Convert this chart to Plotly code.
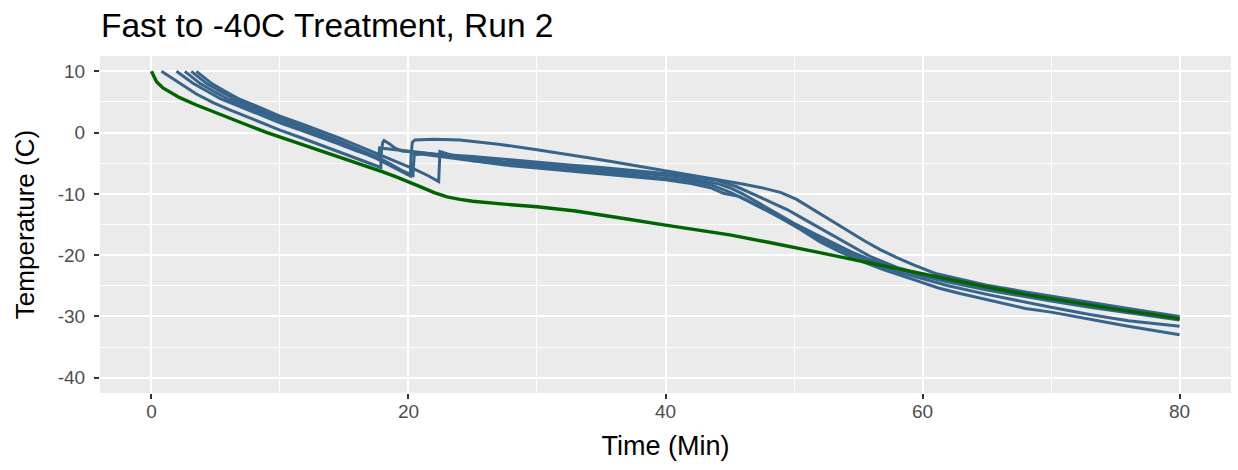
import plotly.graph_objects as go

# ---------------- data ----------------
green_time = [0, 0.2, 0.4, 0.9, 1.5, 2.2, 3.5, 4.8, 6.1, 7.5, 9, 10, 11, 12.5, 14, 15, 16, 17, 18, 19, 20,
              21, 22, 23, 24, 25, 27, 30, 33, 35, 37, 40, 43, 45, 48, 50, 52, 55, 58, 60, 62, 65, 68, 70,
              73, 75, 78, 80]
green_temp = [10.0, 9.1, 8.3, 7.3, 6.5, 5.7, 4.5, 3.4, 2.4, 1.2, 0.0, -0.7, -1.4, -2.5, -3.6, -4.3, -5.0,
              -5.7, -6.4, -7.2, -8.0, -8.9, -9.8, -10.5, -10.9, -11.2, -11.6, -12.1, -12.8, -13.5, -14.1,
              -15.1, -16.0, -16.7, -17.9, -18.8, -19.6, -20.9, -22.2, -23.1, -24.0, -25.2, -26.4, -27.1,
              -28.1, -28.8, -29.7, -30.4]

blue_a_time = [0.78, 1.5, 2.2, 3.5, 4.8, 6.1, 8, 10, 11.6, 13, 14.5, 16, 17, 17.85, 17.9, 18.0, 18.1, 18.5,
               19.0, 19.5, 20.5, 22, 23, 25, 27.5, 30, 32.5, 35, 37.5, 40, 42, 44, 45, 46, 47, 48, 49, 50,
               51.5, 53, 54.5, 56, 58, 60, 62, 65, 68, 70, 73, 76, 80]
blue_a_temp = [10.0, 9.0, 8.0, 6.3, 4.9, 3.7, 2.1, 0.4, -0.8, -1.9, -3.1, -4.2, -5.0, -5.7, -3.0, -1.6, -1.3,
               -1.8, -2.6, -3.0, -3.2, -3.5, -3.8, -4.2, -4.8, -5.2, -5.6, -6.0, -6.5, -7.0, -7.5, -8.3,
               -9.0, -10.0, -11.2, -12.4, -13.6, -14.8, -16.4, -18.0, -19.5, -20.8, -22.2, -23.4, -24.4,
               -25.7, -26.8, -27.5, -28.5, -29.4, -30.6]

blue_b_time = [1.95, 2.5, 3.2, 4.2, 5.4, 6.6, 8, 10, 11.6, 13, 14.5, 16, 17, 17.7, 17.75, 18.2, 19, 20, 21,
               22, 25, 27.5, 30, 32.5, 35, 37.5, 40, 42, 44, 45.5, 47, 48.3, 49.5, 50.5, 52, 54, 56, 58, 60,
               62, 65, 68, 70, 73, 76, 80]
blue_b_temp = [10.0, 9.1, 8.1, 6.9, 5.5, 4.5, 3.3, 1.6, 0.4, -0.6, -1.8, -3.0, -3.7, -4.1, -2.5, -2.6, -2.8,
               -3.0, -3.2, -3.5, -3.9, -4.4, -4.9, -5.3, -5.7, -6.2, -6.6, -7.1, -7.8, -8.8, -10.2, -11.5,
               -12.6, -13.8, -15.6, -18.0, -20.3, -22.0, -23.2, -24.1, -25.3, -26.4, -27.0, -28.1, -29.1,
               -30.3]

blue_c_time = [2.6, 3.1, 3.8, 4.8, 6.0, 7.2, 8.6, 10, 11.6, 13, 14.5, 16, 17.5, 18.5, 19.4, 20.15, 20.2,
               20.3, 20.5, 22, 24, 25, 27, 30, 32, 34, 36, 38, 40, 42, 44.6, 46, 47.7, 49, 50.2, 51.5, 53,
               54.1, 55.5, 56.7, 58, 59.3, 61, 63, 65, 68, 70, 73, 76, 80]
blue_c_temp = [10.0, 9.1, 8.0, 6.8, 5.4, 4.4, 3.2, 2.0, 0.7, -0.4, -1.6, -2.9, -4.2, -5.3, -6.3, -7.1, -4.0,
               -1.6, -1.2, -1.1, -1.2, -1.4, -1.9, -2.8, -3.4, -4.1, -4.8, -5.5, -6.2, -7.0, -7.9, -8.4,
               -9.1, -9.8, -10.9, -12.6, -14.6, -15.9, -17.7, -19.1, -20.4, -21.6, -23.0, -24.0, -24.9,
               -26.0, -26.7, -27.7, -28.7, -30.0]

blue_d_time = [3.1, 3.6, 4.3, 5.3, 6.5, 7.7, 9, 10, 11.6, 13, 14.5, 16, 17.5, 18.5, 19.5, 20.35, 20.45, 21,
               22, 23, 25, 27.5, 30, 32.5, 35, 37.5, 40, 42, 43.5, 45, 46.5, 48, 49.5, 51, 52.5, 54, 56, 58,
               60, 62, 65, 68, 70, 73, 76, 80]
blue_d_temp = [10.0, 9.1, 8.0, 6.8, 5.4, 4.4, 3.2, 2.4, 1.1, 0.0, -1.3, -2.6, -3.9, -5.0, -6.2, -7.0, -3.6,
               -3.5, -3.8, -4.1, -4.6, -5.1, -5.6, -6.0, -6.4, -6.9, -7.4, -7.9, -8.5, -9.7, -11.2, -12.9,
               -14.5, -16.2, -17.9, -19.4, -21.2, -22.7, -23.9, -25.0, -26.4, -27.7, -28.5, -29.7, -30.7,
               -31.6]

blue_e_time = [3.5, 4.0, 4.7, 5.7, 6.9, 8.1, 9.4, 10, 11.6, 13, 14.5, 16, 17.5, 19, 20.5, 21.5, 22.35,
               22.45, 23, 24, 25, 27.5, 30, 32.5, 35, 37.5, 40, 42, 43.5, 44.5, 45.7, 47, 48.3, 49.5, 50.5,
               52, 53.5, 55, 57, 59.3, 61.3, 63, 65, 68, 70, 73, 76, 80]
blue_e_temp = [10.0, 9.1, 8.0, 6.8, 5.4, 4.4, 3.2, 2.7, 1.5, 0.4, -0.8, -2.1, -3.4, -4.7, -6.0, -7.0, -8.0,
               -3.1, -3.5, -4.1, -4.6, -5.3, -5.8, -6.3, -6.7, -7.2, -7.7, -8.3, -9.0, -9.9, -10.4, -11.8,
               -13.1, -14.6, -15.8, -17.8, -19.4, -20.8, -22.4, -24.0, -25.4, -26.3, -27.3, -28.7, -29.3,
               -30.5, -31.6, -33.0]

x_ticks = [0, 20, 40, 60, 80]
y_ticks = [-40, -30, -20, -10, 0, 10]

title_text = "Fast to -40C Treatment, Run 2"
x_title = "Time (Min)"
y_title = "Temperature (C)"

BLUE = "#36648B"
GREEN = "#006400"
FONT = "Liberation Sans, Arial, sans-serif"

fig = go.Figure()
blue_series = [(blue_a_time, blue_a_temp), (blue_b_time, blue_b_temp), (blue_c_time, blue_c_temp),
               (blue_d_time, blue_d_temp), (blue_e_time, blue_e_temp)]
for bt, bv in blue_series:
    fig.add_trace(go.Scatter(x=bt, y=bv, mode="lines", line=dict(color=BLUE, width=3),
                             showlegend=False, hoverinfo="skip"))
fig.add_trace(go.Scatter(x=green_time, y=green_temp, mode="lines",
                         line=dict(color=GREEN, width=3.4), showlegend=False, hoverinfo="skip"))

axis_common = dict(
    showline=False, zeroline=False,
    showgrid=True, gridcolor="white", gridwidth=2,
    ticks="outside", ticklen=5, tickwidth=1.5, tickcolor="#333333",
    tickfont=dict(family=FONT, size=19, color="#4D4D4D"),
)

fig.update_layout(
    width=1238, height=470,
    margin=dict(l=100, r=7, t=56, b=77),
    paper_bgcolor="white", plot_bgcolor="#EBEBEB",
    title=dict(text=title_text, x=101 / 1238, xanchor="left", xref="container",
               y=1 - 25 / 470, yanchor="middle", yref="container",
               font=dict(family=FONT, size=33.5, color="black")),
    xaxis=dict(range=[-4, 84], tickvals=x_ticks, ticktext=[str(v) for v in x_ticks],
               ticklabelstandoff=-4,
               title=dict(text=x_title, standoff=15, font=dict(family=FONT, size=27, color="black")),
               minor=dict(tickvals=[10, 30, 50, 70], showgrid=True, gridcolor="white", gridwidth=1,
                          ticks=""),
               **axis_common),
    yaxis=dict(range=[-42.5, 12.5], tickvals=y_ticks, ticktext=[str(v) for v in y_ticks],
               ticklabelstandoff=5,
               title=dict(text=y_title, standoff=15, font=dict(family=FONT, size=26, color="black")),
               minor=dict(tickvals=[-35, -25, -15, -5, 5], showgrid=True, gridcolor="white",
                          gridwidth=1, ticks=""),
               **axis_common),
)

fig.write_html("out.html")
